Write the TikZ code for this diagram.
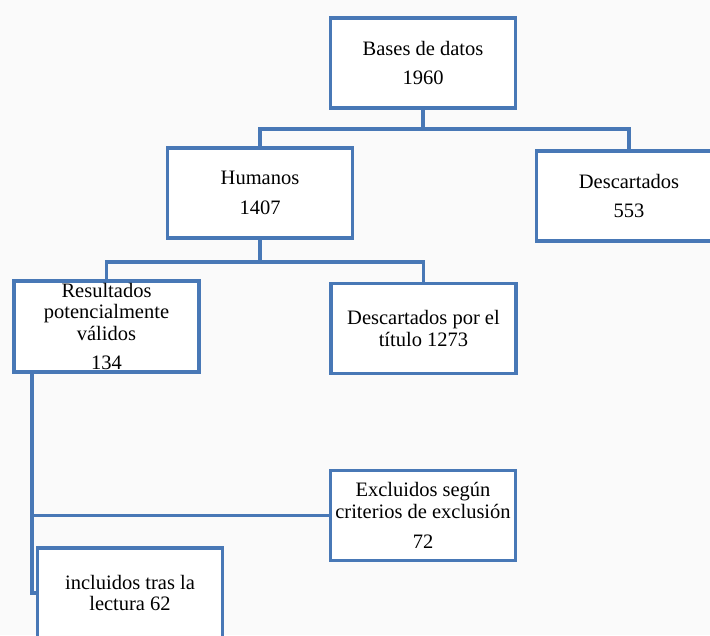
\documentclass[tikz,border=0pt]{standalone}
\usepackage{fontspec}
\setmainfont{Liberation Serif}
\definecolor{azul}{RGB}{72,120,182}
\definecolor{fondo}{RGB}{250,250,250}
\tikzset{
  caja/.style={draw=azul,line width=3.5pt,fill=white,minimum width=185pt,minimum height=90pt,
    inner sep=2pt,align=center,font=\fontsize{20.5}{21.5}\selectfont},
  linea/.style={draw=azul,line width=3.5pt}
}
\begin{document}
\begin{tikzpicture}[x=1pt,y=-1pt]
\fill[fondo] (0,0) rectangle (710,635);
\useasboundingbox (0,0) rectangle (710,635);
\clip (0,0) rectangle (710,635);
%\draw[step=50,gray,very thin,dashed] (0,0) grid (710,635);
\node[caja] (bases) at (423,63) {Bases de datos\\[8pt]1960};
\node[caja] (humanos) at (260,193) {Humanos\\[8pt]1407};
\node[caja] (descart) at (629,196) {Descartados\\[8pt]553};
\node[caja] (result) at (106.5,326.5) {Resultados\\potencialmente\\válidos\\[8pt]134};
\node[caja] (titulo) at (423.5,328.5) {Descartados por el\\título 1273};
\node[caja] (excl) at (423,515.5) {Excluidos según\\criterios de exclusión\\[9pt]72};
\node[caja] (incl) at (130,593) {incluidos tras la\\lectura 62};
\draw[linea] (bases.south) -- ++(0,19) coordinate (b1) -| (humanos.north);
\draw[linea] (b1) -| (descart.north);
\draw[linea] (humanos.south) -- ++(0,22) coordinate (h1) -| (result.north);
\draw[linea] (h1) -| (titulo.north);
\path (incl.west) ++(-4,0) coordinate (c1);
\draw[linea] (c1 |- result.south) -- (c1) -- (incl.west);
\draw[linea] (c1 |- excl.west) -- (excl.west);
\end{tikzpicture}
\end{document}
